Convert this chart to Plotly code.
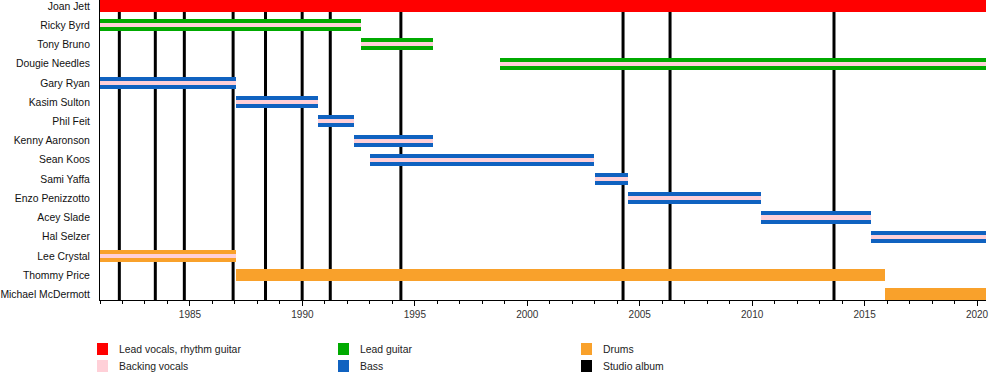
import plotly.graph_objects as go

# ---- data ----
members = ["Joan Jett", "Ricky Byrd", "Tony Bruno", "Dougie Needles", "Gary Ryan",
           "Kasim Sulton", "Phil Feit", "Kenny Aaronson", "Sean Koos", "Sami Yaffa",
           "Enzo Penizzotto", "Acey Slade", "Hal Selzer", "Lee Crystal", "Thommy Price",
           "Michael McDermott"]
start_year = 1981.0
end_year = 2020.4
starts = [1981.0, 1981.0, 1992.62, 1998.78, 1981.0, 1987.05, 1990.7, 1992.3, 1993.0,
          2003.0, 2004.5, 2010.4, 2015.3, 1981.0, 1987.05, 2015.92]
ends = [2020.4, 1992.62, 1995.8, 2020.4, 1987.05, 1990.7, 1992.3, 1995.8, 2002.95,
        2004.5, 2010.4, 2015.3, 2020.4, 1987.05, 2015.92, 2020.4]
main_roles = ["vocals", "guitar", "guitar", "guitar", "bass", "bass", "bass", "bass", "bass",
              "bass", "bass", "bass", "bass", "drums", "drums", "drums"]
backing = [False, True, True, True, True, True, True, True, True,
           True, True, True, True, True, False, False]
albums = [1981.86, 1983.46, 1984.75, 1986.92, 1988.36, 1989.99, 1991.24, 1994.38,
          2004.26, 2006.35, 2013.64]
legend_labels = ["Lead vocals, rhythm guitar", "Backing vocals", "Lead guitar", "Bass",
                 "Drums", "Studio album"]
legend_keys = ["vocals", "backing", "guitar", "bass", "drums", "album"]
colors = {"vocals": "#ff0000", "guitar": "#00aa00", "bass": "#1062c0",
          "drums": "#f9a12b", "backing": "#ffd0d8", "album": "#000000"}

fig = go.Figure()

# main role bars
for role in ["vocals", "guitar", "bass", "drums"]:
    idx = [i for i, r in enumerate(main_roles) if r == role]
    fig.add_trace(go.Bar(
        orientation="h",
        y=[members[i] for i in idx],
        base=[starts[i] for i in idx],
        x=[ends[i] - starts[i] for i in idx],
        width=0.625,
        marker=dict(color=colors[role], line=dict(width=0)),
        showlegend=False, hoverinfo="skip"))

# backing vocal stripes
idx = [i for i, b in enumerate(backing) if b]
fig.add_trace(go.Bar(
    orientation="h",
    y=[members[i] for i in idx],
    base=[starts[i] for i in idx],
    x=[ends[i] - starts[i] for i in idx],
    width=0.21,
    marker=dict(color=colors["backing"], line=dict(width=0)),
    showlegend=False, hoverinfo="skip"))

# studio album lines
for a in albums:
    fig.add_shape(type="line", xref="x", yref="paper", x0=a, x1=a, y0=0, y1=1,
                  line=dict(color="black", width=3), layer="below")

# manual legend
L, W, T, H = 100, 886, 0, 300
def px_to_paper_x(px):
    return (px - L) / W
def px_to_paper_y(py):
    return (T + H - py) / H

col_x = [97, 338, 581]
row_y = [349, 366]
for k, (lab, key) in enumerate(zip(legend_labels, legend_keys)):
    c, r = k // 2, k % 2
    sx, sy = col_x[c], row_y[r]
    fig.add_shape(type="rect", xref="paper", yref="paper",
                  x0=px_to_paper_x(sx), x1=px_to_paper_x(sx + 11),
                  y0=px_to_paper_y(sy + 6), y1=px_to_paper_y(sy - 6),
                  fillcolor=colors[key], line=dict(width=0))
    fig.add_annotation(xref="paper", yref="paper", x=px_to_paper_x(sx + 20),
                       y=px_to_paper_y(sy), text=lab, showarrow=False,
                       xanchor="left", yanchor="middle",
                       font=dict(family="Liberation Sans, Arial", size=10.4, color="#222"))

fig.update_layout(
    width=1000, height=380,
    margin=dict(l=L, r=1000 - L - W, t=T, b=380 - T - H, autoexpand=False),
    paper_bgcolor="white", plot_bgcolor="white",
    barmode="overlay", bargap=0,
    font=dict(family="Liberation Sans, Arial", size=11, color="#222"),
    xaxis=dict(range=[start_year, end_year], showgrid=False, zeroline=False,
               automargin=False,
               showline=True, linecolor="black", linewidth=1,
               ticks="outside", ticklen=5, tickcolor="black", tickwidth=1,
               tick0=1985, dtick=5, tickfont=dict(size=10, color="#333"),
               minor=dict(dtick=1, tick0=1985, ticks="outside", ticklen=3,
                          tickcolor="black", tickwidth=1, showgrid=False)),
    yaxis=dict(type="category", categoryorder="array", categoryarray=members,
               range=[15.29, -0.31], showgrid=False, zeroline=False,
               automargin=False,
               showline=True, linecolor="black", linewidth=1,
               ticks="", ticklabelstandoff=7,
               tickfont=dict(size=10.4, color="#111")),
)

fig.write_html("out.html", config={"displayModeBar": False},
               post_script="document.body.style.margin='0';document.body.style.overflow='hidden';")
